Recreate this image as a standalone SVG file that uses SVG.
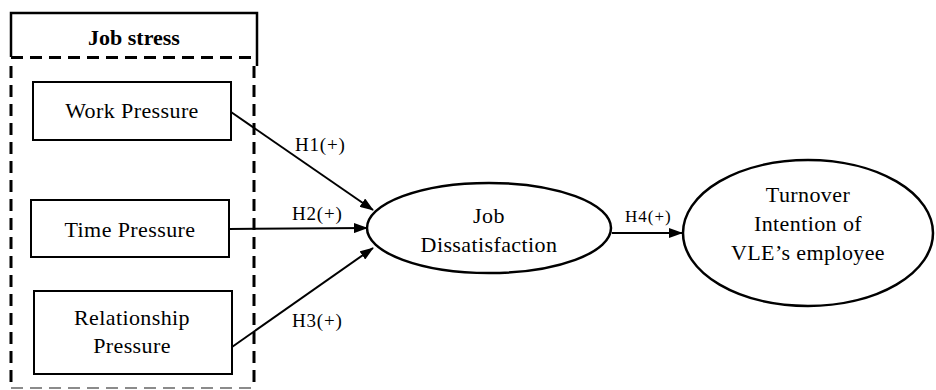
<svg xmlns="http://www.w3.org/2000/svg" width="936" height="390" viewBox="0 0 936 390">
  <defs>
    <marker id="arrow" markerWidth="14" markerHeight="10" refX="13" refY="5" orient="auto" markerUnits="userSpaceOnUse">
      <path d="M0,0 L14,5 L0,10 Z" fill="#000"/>
    </marker>
    <style>
      text { font-family: "Liberation Serif", "Times New Roman", serif; fill: #000; }
      .lbl { font-size: 22px; text-anchor: middle; letter-spacing: 0.4px; }
      .hyp { font-size: 19px; letter-spacing: 0.8px; }
      .box { fill: #fff; stroke: #000; stroke-width: 2; }
      .ell { fill: #fff; stroke: #000; stroke-width: 2.5; }
      .edge { stroke: #000; stroke-width: 2; fill: none; }
      .dash { stroke: #000; stroke-width: 3; fill: none; stroke-dasharray: 12 7; }
    </style>
  </defs>
  <rect width="936" height="390" fill="#fff"/>

  <!-- Job stress group frame -->
  <g id="job-stress">
    <path d="M11,57 L11,13 L257,13 L257,66" fill="none" stroke="#000" stroke-width="2.5"/>
    <path class="dash" d="M11,57.5 L254,57.5"/>
    <path class="dash" d="M11,66 L11,388"/>
    <path class="dash" d="M254,66 L254,388"/>
    <path d="M11,388 L254,388" fill="none" stroke="#666" stroke-width="1.5" stroke-dasharray="12 7"/>
    <text x="134" y="45" font-size="22" font-weight="bold" text-anchor="middle">Job stress</text>
  </g>

  <!-- connectors -->
  <g id="connectors">
    <line class="edge" x1="231" y1="112" x2="373" y2="210" marker-end="url(#arrow)"/>
    <line class="edge" x1="229" y1="229" x2="367" y2="228" marker-end="url(#arrow)"/>
    <line class="edge" x1="232" y1="347" x2="373" y2="248" marker-end="url(#arrow)"/>
    <line class="edge" x1="612" y1="233" x2="682" y2="233" marker-end="url(#arrow)"/>
    <text class="hyp" x="295" y="151">H1(+)</text>
    <text class="hyp" x="292" y="220">H2(+)</text>
    <text class="hyp" x="292" y="327">H3(+)</text>
    <text x="625" y="222" font-size="17" letter-spacing="1">H4(+)</text>
  </g>

  <g id="work-pressure">
    <rect class="box" x="33" y="82" width="198" height="58"/>
    <text class="lbl" x="132" y="118">Work Pressure</text>
  </g>

  <g id="time-pressure">
    <rect class="box" x="31" y="200" width="198" height="57"/>
    <text class="lbl" x="130" y="237">Time Pressure</text>
  </g>

  <g id="relationship-pressure">
    <rect class="box" x="34" y="291" width="198" height="83"/>
    <text class="lbl" x="132" y="325">Relationship</text>
    <text class="lbl" x="132" y="353">Pressure</text>
  </g>

  <g id="job-dissatisfaction">
    <ellipse class="ell" cx="489" cy="228" rx="122" ry="45"/>
    <text class="lbl" x="489" y="223">Job</text>
    <text class="lbl" x="489" y="252">Dissatisfaction</text>
  </g>

  <g id="turnover-intention">
    <ellipse class="ell" cx="808" cy="233" rx="125" ry="73"/>
    <text class="lbl" x="808" y="202">Turnover</text>
    <text class="lbl" x="808" y="231">Intention of</text>
    <text class="lbl" x="808" y="260">VLE’s employee</text>
  </g>
</svg>
